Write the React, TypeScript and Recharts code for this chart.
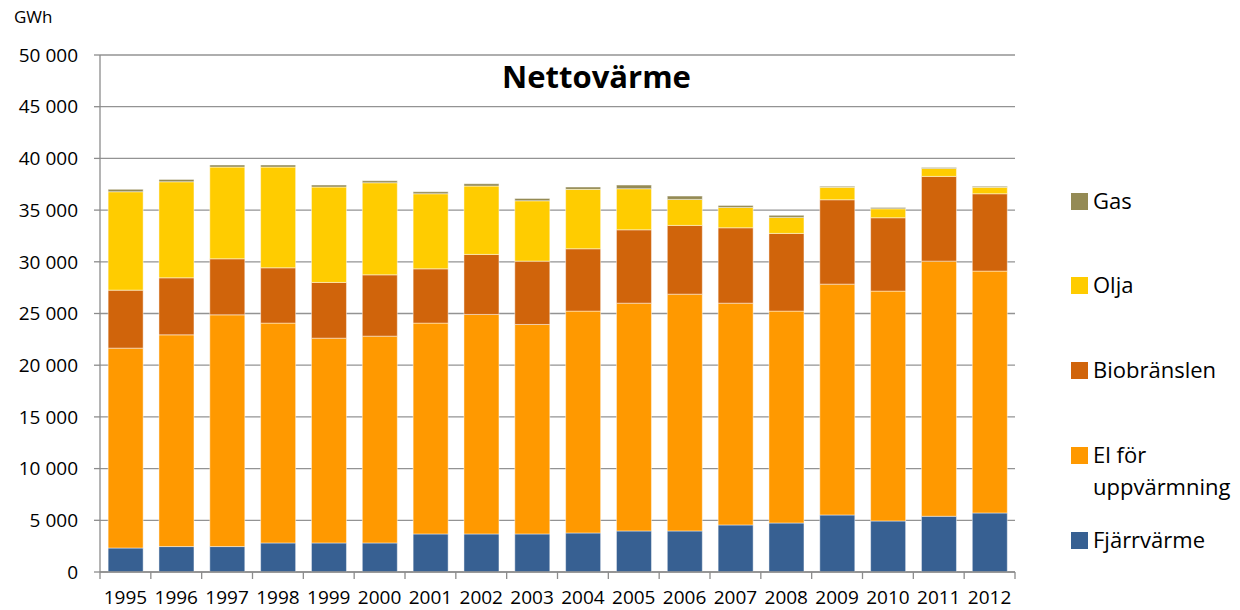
import { Bar, BarChart, CartesianGrid, XAxis, YAxis } from "recharts";

// Nettovärme, GWh per year
const years = [
  "1995", "1996", "1997", "1998", "1999", "2000", "2001", "2002", "2003",
  "2004", "2005", "2006", "2007", "2008", "2009", "2010", "2011", "2012",
];
const fjarrvarme = [2320, 2460, 2460, 2810, 2810, 2810, 3680, 3680, 3680, 3775, 3970, 3970, 4550, 4740, 5515, 4935, 5390, 5710];
const elUppvarmning = [19330, 20475, 22410, 21260, 19805, 20000, 20390, 21230, 20260, 21455, 22030, 22900, 21450, 20490, 22325, 22230, 24675, 23390];
const biobranslen = [5610, 5515, 5420, 5350, 5390, 5930, 5250, 5805, 6125, 6030, 7095, 6650, 7290, 7515, 8160, 7095, 8195, 7480];
const olja = [9515, 9290, 8870, 9740, 9225, 8905, 7260, 6610, 5835, 5745, 3970, 2515, 1970, 1550, 1200, 870, 775, 620];
const gas = [230, 230, 200, 200, 190, 195, 195, 225, 230, 225, 355, 320, 195, 195, 95, 130, 95, 95];
const yTicks = [0, 5000, 10000, 15000, 20000, 25000, 30000, 35000, 40000, 45000, 50000];

const series = [
  { key: "fjarr", name: "Fjärrvärme", values: fjarrvarme, color: "#376092" },
  { key: "el", name: "El för uppvärmning", values: elUppvarmning, color: "#FF9900" },
  { key: "bio", name: "Biobränslen", values: biobranslen, color: "#D0640B" },
  { key: "olja", name: "Olja", values: olja, color: "#FFCC00" },
  { key: "gas", name: "Gas", values: gas, color: "#948A54" },
];

const data = years.map((year, i) => {
  const row: Record<string, string | number> = { year };
  series.forEach((s) => (row[s.key] = s.values[i]));
  return row;
});

const FONT = "'Open Sans', Lato, sans-serif";
const W = 1240;
const H = 610;
const PLOT_LEFT = 100;
const PLOT_RIGHT = 1015;
const HALF_CAT = (PLOT_RIGHT - PLOT_LEFT) / years.length / 2;

// "50 000" style: space as thousands separator
const fmt = (v: number) =>
  String(v).replace(/\B(?=(\d{3})+(?!\d))/g, "\u00a0");

function YearTick({ x, y, payload, index }: any) {
  const last = index === years.length - 1;
  return (
    <g>
      <line x1={x - HALF_CAT} x2={x - HALF_CAT} y1={y} y2={y + 7} stroke="#8c8c8c" strokeWidth={1.3} />
      {last && (
        <line x1={x + HALF_CAT} x2={x + HALF_CAT} y1={y} y2={y + 7} stroke="#8c8c8c" strokeWidth={1.3} />
      )}
      <text x={x} y={y + 32} textAnchor="middle" fill="#000" fontSize={19} fontFamily={FONT}>
        {payload.value}
      </text>
    </g>
  );
}

// Legend on the right, top to bottom: Gas ... Fjärrvärme
const legendRows: { name: string; lines: string[]; color: string; top: number }[] = [
  { name: "Gas", lines: ["Gas"], color: "#948A54", top: 193 },
  { name: "Olja", lines: ["Olja"], color: "#FFCC00", top: 277 },
  { name: "Biobränslen", lines: ["Biobränslen"], color: "#D0640B", top: 362 },
  { name: "El för uppvärmning", lines: ["El för", "uppvärmning"], color: "#FF9900", top: 447 },
  { name: "Fjärrvärme", lines: ["Fjärrvärme"], color: "#376092", top: 532 },
];

function SideLegend() {
  return (
    <div style={{ position: "absolute", left: 1071, top: 0, width: 169, height: H }}>
      {legendRows.map((r) => (
        <div key={r.name} style={{ position: "absolute", left: 0, top: r.top }}>
          <span
            style={{
              position: "absolute",
              left: 0,
              top: 0,
              width: 17,
              height: 17,
              background: r.color,
            }}
          />
          {r.lines.map((ln, j) => (
            <div
              key={ln}
              style={{
                position: "absolute",
                left: 22,
                top: -9 + j * 32,
                fontSize: 22,
                lineHeight: "33px",
                whiteSpace: "nowrap",
                color: "#000",
                fontFamily: FONT,
              }}
            >
              {ln}
            </div>
          ))}
        </div>
      ))}
    </div>
  );
}

export default function App() {
  return (
    <div style={{ position: "absolute", left: 0, top: 0, width: W, height: H, background: "#fff", fontFamily: FONT }}>
      <BarChart
        width={W}
        height={H}
        data={data}
        margin={{ top: 55, right: W - PLOT_RIGHT, bottom: 0, left: 0 }}
        barCategoryGap="16%"
      >
        <CartesianGrid vertical={false} stroke="#939393" strokeWidth={1.3} />
        <XAxis
          dataKey="year"
          tick={<YearTick />}
          tickLine={false}
          tickSize={0}
          tickMargin={0}
          interval={0}
          height={38}
          axisLine={{ stroke: "#8c8c8c", strokeWidth: 1.3 }}
        />
        <YAxis
          width={PLOT_LEFT}
          domain={[0, 50000]}
          ticks={yTicks}
          interval={0}
          tickFormatter={fmt}
          tickSize={6}
          tickMargin={16}
          tick={{ fill: "#000", fontSize: 19, fontFamily: FONT }}
          axisLine={{ stroke: "#8c8c8c", strokeWidth: 1.3 }}
          tickLine={{ stroke: "#8c8c8c", strokeWidth: 1.3 }}
        />
        {series.map((s) => (
          <Bar
            key={s.key}
            dataKey={s.key}
            name={s.name}
            stackId="a"
            fill={s.color}
            stroke="rgba(255,255,255,0.45)"
            strokeWidth={1}
            isAnimationActive={false}
          />
        ))}
      </BarChart>
      <div style={{ position: "absolute", left: 14, top: 5, fontSize: 17, color: "#000" }}>GWh</div>
      <div
        style={{
          position: "absolute",
          left: PLOT_LEFT,
          width: PLOT_RIGHT - PLOT_LEFT,
          top: 55,
          textAlign: "center",
          fontSize: 31,
          fontWeight: 700,
          color: "#000",
          paddingLeft: 78,
          boxSizing: "border-box",
        }}
      >
        Nettovärme
      </div>
      <SideLegend />
    </div>
  );
}
